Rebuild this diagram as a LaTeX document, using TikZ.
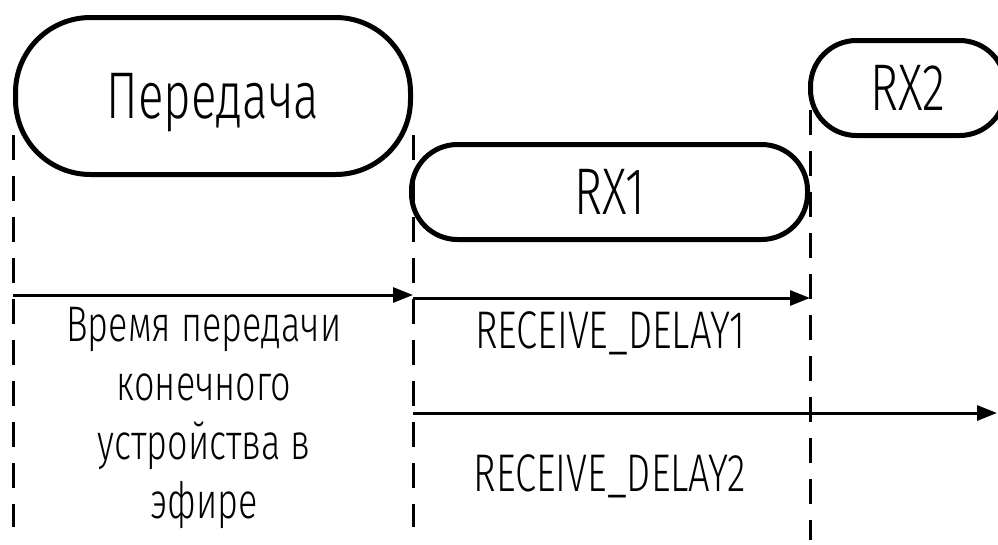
\documentclass[tikz,border=0pt]{standalone}
\usepackage{fontspec}
\setmainfont{Fira Sans Light}[FakeStretch=0.72]
\usetikzlibrary{arrows.meta}

\tikzset{
  stage/.style={draw, line width=5pt, text height=45pt, text depth=0pt,
    inner sep=0pt, font=\fontsize{66}{70}\selectfont},
  guide/.style={line width=3pt, dash pattern=on 25pt off 16pt},
  span/.style={line width=3pt, -{Triangle[length=20pt,width=15pt]}},
  label/.style={font=\fontsize{50}{59}\selectfont, align=center, inner sep=0pt},
  delaylabel/.style={font=\fontsize{53}{59}\selectfont, inner sep=0pt}
}

\begin{document}
\begin{tikzpicture}[x=1pt, y=-1pt]
  \useasboundingbox (0,0) rectangle (998,544);

  % time slots
  \node[stage, rounded corners=75pt, minimum width=395pt, minimum height=157pt]
    (tx) at (213,96) {Передача};
  \node[stage, rounded corners=46pt, minimum width=396pt, minimum height=95pt]
    (rx1) at (609.5,192) {RX1};
  \node[stage, rounded corners=46pt, minimum width=195pt, minimum height=95pt]
    (rx2) at (908,88) {RX2};

  % vertical guides
  \coordinate (g1t) at (tx.west |- 0,135);
  \coordinate (g1b) at (tx.west |- 0,527);
  \coordinate (g2t) at (tx.east |- 0,135);
  \coordinate (g2b) at (tx.east |- 0,527);
  \coordinate (g3t) at (rx1.east |- 0,110);
  \coordinate (g3b) at (rx1.east |- 0,540);
  \draw[guide] (g1t) -- (g1b);
  \draw[guide] (g2t) -- (g2b);
  \draw[guide] (g3t) -- (g3b);

  % intervals
  \coordinate (a1s) at (tx.west |- 0,295);
  \coordinate (a1e) at (tx.east |- 0,295);
  \coordinate (a2s) at (tx.east |- 0,298);
  \coordinate (a2e) at (rx1.east |- 0,298);
  \coordinate (a3s) at (tx.east |- 0,413);
  \coordinate (a3e) at (997,413);
  \draw[span] (a1s) -- (a1e);
  \draw[span] (a2s) -- (a2e);
  \draw[span] (a3s) -- (a3e);

  % interval labels
  \node[label] (ltx) at (204,418) {Время передачи\\конечного\\устройства в\\эфире};
  \node[delaylabel] (ld1) at (610,333) {RECEIVE\_DELAY1};
  \node[delaylabel] (ld2) at (610,476) {RECEIVE\_DELAY2};
\end{tikzpicture}
\end{document}
